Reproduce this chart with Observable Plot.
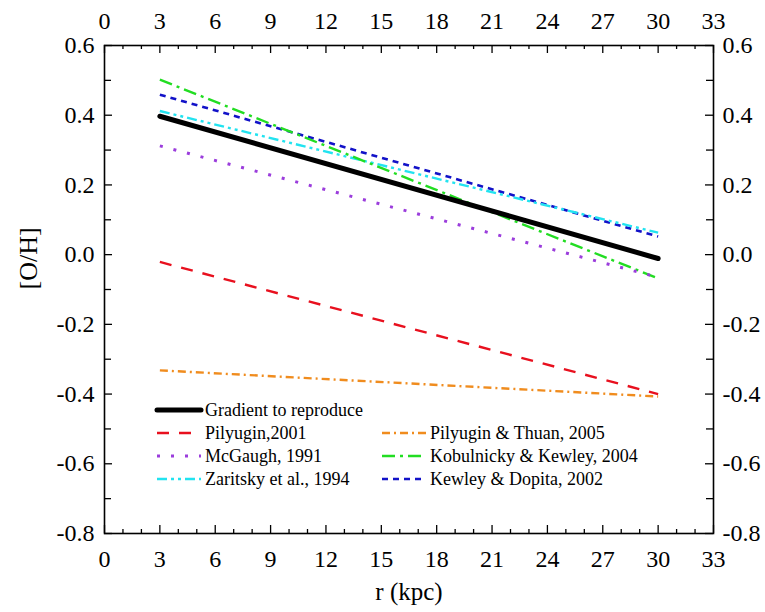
<!DOCTYPE html>
<html>
<head>
<meta charset="utf-8">
<script src="https://cdn.jsdelivr.net/npm/d3@7"></script>
<script src="https://cdn.jsdelivr.net/npm/@observablehq/plot@0.6"></script>
<style>
  body { margin: 0; background: #fff; }
  #wrap { position: relative; width: 765px; height: 612px; font-family: "Liberation Serif", "Times New Roman", serif; }
  #wrap svg text { font-family: "Liberation Serif", "Times New Roman", serif !important; }
  #legend { position: absolute; left: 0; top: 0; pointer-events: none; }
</style>
</head>
<body>
<div id="wrap"></div>
<script>
// ---- data ----
const r = [3, 30];
const gradient = [0.397, -0.011];
const pilyugin2001 = [-0.021, -0.40];
const pilyuginThuan2005 = [-0.332, -0.407];
const mcgaugh1991 = [0.312, -0.065];
const kobulnicky2004 = [0.502, -0.068];
const zaritsky1994 = [0.412, 0.063];
const kewleyDopita2002 = [0.459, 0.052];

const xTicks = [0, 3, 6, 9, 12, 15, 18, 21, 24, 27, 30, 33];
const xMinor = d3.range(0, 34, 1).filter(v => v % 3 !== 0);
const yTicks = [-0.8, -0.6, -0.4, -0.2, 0.0, 0.2, 0.4, 0.6];
const yMinor = [-0.7, -0.5, -0.3, -0.1, 0.1, 0.3, 0.5];

const series = [
  {name: "Gradient to reproduce", values: gradient, color: "#000000", width: 5, dash: null, col: 0, row: 0},
  {name: "Pilyugin,2001", values: pilyugin2001, color: "#e8101e", width: 2.4, dash: "12,10", col: 0, row: 1},
  {name: "Pilyugin & Thuan, 2005", values: pilyuginThuan2005, color: "#f08c1e", width: 2.4, dash: "8,4,2,4", col: 1, row: 1},
  {name: "McGaugh, 1991", values: mcgaugh1991, color: "#9b3ddc", width: 3, dash: "3,11", col: 0, row: 2},
  {name: "Kobulnicky & Kewley, 2004", values: kobulnicky2004, color: "#22dd22", width: 2.4, dash: "13,5,3,5", col: 1, row: 2},
  {name: "Zaritsky et al., 1994", values: zaritsky1994, color: "#22e3f0", width: 2.4, dash: "10,4,3,4,3,4", col: 0, row: 3},
  {name: "Kewley & Dopita, 2002", values: kewleyDopita2002, color: "#1212c8", width: 2.6, dash: "6,5", col: 1, row: 3}
];

// ---- layout ----
const W = 765, H = 612;
const mL = 104, mR = 52, mT = 45, mB = 79;
const iW = W - mL - mR, iH = H - mT - mB;
const font = "'Liberation Serif', 'Times New Roman', serif";
const fmt = d => d.toFixed(1);

const lineMarks = series.slice().reverse().map(s =>
  Plot.line(r.map((x, i) => ({x, y: s.values[i]})), {
    x: "x", y: "y", stroke: s.color, strokeWidth: s.width,
    strokeDasharray: s.dash, strokeLinecap: s.dash ? "butt" : "round"
  })
);

const plot = Plot.plot({
  width: W, height: H,
  marginLeft: mL, marginRight: mR, marginTop: mT, marginBottom: mB,
  style: {fontFamily: font, background: "#fff", color: "#000"},
  x: {domain: [0, 33]},
  y: {domain: [-0.8, 0.6]},
  marks: [
    // inward ticks
    Plot.tickX(xTicks, {x: d => d, insetBottom: iH - 8, strokeWidth: 1.3}),
    Plot.tickX(xTicks, {x: d => d, insetTop: iH - 8, strokeWidth: 1.3}),
    Plot.tickX(xMinor, {x: d => d, insetBottom: iH - 4, strokeWidth: 1.3}),
    Plot.tickX(xMinor, {x: d => d, insetTop: iH - 4, strokeWidth: 1.3}),
    Plot.tickY(yTicks, {y: d => d, insetRight: iW - 8, strokeWidth: 1.3}),
    Plot.tickY(yTicks, {y: d => d, insetLeft: iW - 8, strokeWidth: 1.3}),
    Plot.tickY(yMinor, {y: d => d, insetRight: iW - 7, strokeWidth: 1.3}),
    Plot.tickY(yMinor, {y: d => d, insetLeft: iW - 7, strokeWidth: 1.3}),
    // tick labels
    Plot.axisX({anchor: "bottom", ticks: xTicks, tickSize: 0, tickPadding: 16, fontSize: 24, label: null}),
    Plot.axisX({anchor: "top", ticks: xTicks, tickSize: 0, tickPadding: 17, fontSize: 24, label: null}),
    Plot.axisY({anchor: "left", ticks: yTicks, tickSize: 0, tickPadding: 10, fontSize: 24, label: null, tickFormat: fmt}),
    Plot.axisY({anchor: "right", ticks: yTicks, tickSize: 0, tickPadding: 9, fontSize: 24, label: null, tickFormat: fmt}),
    // axis titles
    Plot.text(["r (kpc)"], {frameAnchor: "bottom", dy: 66, fontSize: 25, fill: "#000"}),
    Plot.text(["[O/H]"], {frameAnchor: "left", dx: -76, dy: 0, rotate: -90, fontSize: 26, fill: "#000"}),
    ...lineMarks,
    Plot.frame({stroke: "#000", strokeWidth: 1.6})
  ]
});

const wrap = document.getElementById("wrap");
wrap.appendChild(plot);

// ---- legend overlay ----
const ns = "http://www.w3.org/2000/svg";
const lg = document.createElementNS(ns, "svg");
lg.setAttribute("id", "legend");
lg.setAttribute("width", W);
lg.setAttribute("height", H);
const colX = [[157, 201, 205], [382, 426, 430]];
const rowY = [410, 433, 456, 479];
series.forEach(s => {
  const [x1, x2, tx] = colX[s.col];
  const y = rowY[s.row];
  const ln = document.createElementNS(ns, "line");
  ln.setAttribute("x1", x1); ln.setAttribute("x2", x2);
  ln.setAttribute("y1", y); ln.setAttribute("y2", y);
  ln.setAttribute("stroke", s.color);
  ln.setAttribute("stroke-width", s.width);
  if (s.dash) ln.setAttribute("stroke-dasharray", s.dash);
  ln.setAttribute("stroke-linecap", s.dash ? "butt" : "round");
  lg.appendChild(ln);
  const t = document.createElementNS(ns, "text");
  t.setAttribute("x", tx); t.setAttribute("y", y);
  t.setAttribute("dy", "0.35em");
  t.setAttribute("font-family", font);
  t.setAttribute("font-size", 18);
  t.setAttribute("fill", "#000");
  t.textContent = s.name;
  lg.appendChild(t);
});
wrap.appendChild(lg);
</script>
</body>
</html>
